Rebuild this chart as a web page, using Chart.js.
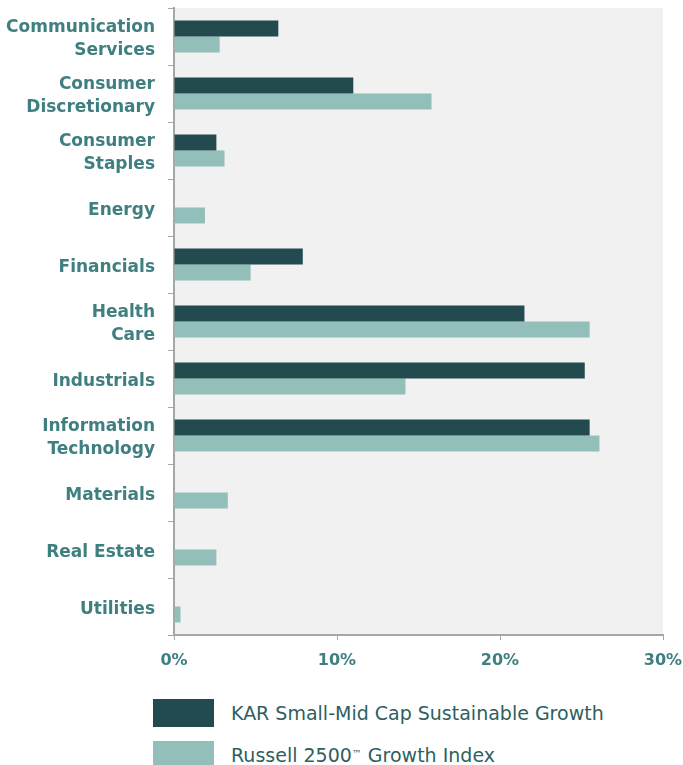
<!DOCTYPE html>
<html>
<head>
<meta charset="utf-8">
<script src="https://cdn.jsdelivr.net/npm/chart.js@4/dist/chart.umd.min.js"></script>
<style>
  body { margin: 0; background: #fff; }
  #wrap { position: relative; width: 683px; height: 765px; overflow: hidden; }
  #grafico { position: absolute; left: 0; top: 0; }
  .leyenda { position: absolute; left: 153px; font-family: "DejaVu Sans", sans-serif; font-size: 19px; color: #2f5f60; }
  .leyenda div { display: flex; align-items: center; height: 28px; margin-bottom: 14px; white-space: nowrap; }
  .leyenda span.caja { display: inline-block; width: 61px; height: 28px; margin-right: 17px; }
</style>
</head>
<body>
<div id="wrap">
  <canvas id="grafico" width="683" height="680"></canvas>
  <div class="leyenda" style="top:699px">
    <div><span class="caja" style="background:#234a4e"></span>KAR Small-Mid Cap Sustainable Growth</div>
    <div><span class="caja" style="background:#93bfba"></span>Russell 2500<sup style="font-size:10px;position:relative;top:-2px">™</sup>&nbsp;Growth Index</div>
  </div>
</div>
<script>
// Sectores y pesos (%)
const sectores = [
  ['Communication', 'Services'],
  ['Consumer', 'Discretionary'],
  ['Consumer', 'Staples'],
  'Energy',
  'Financials',
  ['Health', 'Care'],
  'Industrials',
  ['Information', 'Technology'],
  'Materials',
  'Real Estate',
  'Utilities'
];
const pesoKAR = [6.4, 11.0, 2.6, 0, 7.9, 21.5, 25.2, 25.5, 0, 0, 0];
const pesoRussell = [2.8, 15.8, 3.1, 1.9, 4.7, 25.5, 14.2, 26.1, 3.3, 2.6, 0.4];
const ticksX = [0, 10, 20, 30];

const colorTexto = '#3f7f80';
const colorEje = '#a6a6a6';
const fuente = '"DejaVu Sans", sans-serif';

// fondo gris del area del grafico
const fondoPlugin = {
  id: 'fondo',
  beforeDraw(chart) {
    const { ctx, chartArea } = chart;
    ctx.save();
    ctx.fillStyle = '#f1f1f1';
    ctx.fillRect(chartArea.left, chartArea.top, chartArea.right - chartArea.left, chartArea.bottom - chartArea.top);
    ctx.restore();
  }
};

const ctx = document.getElementById('grafico').getContext('2d');
new Chart(ctx, {
  type: 'bar',
  data: {
    labels: sectores,
    datasets: [
      {
        label: 'KAR Small-Mid Cap Sustainable Growth',
        data: pesoKAR,
        backgroundColor: '#234a4e',
        categoryPercentage: 0.56,
        barPercentage: 1
      },
      {
        label: 'Russell 2500™ Growth Index',
        data: pesoRussell,
        backgroundColor: '#93bfba',
        categoryPercentage: 0.56,
        barPercentage: 1
      }
    ]
  },
  options: {
    indexAxis: 'y',
    responsive: false,
    animation: false,
    layout: { padding: { top: 8, right: 20, left: 0, bottom: 0 } },
    plugins: {
      legend: { display: false },
      tooltip: { enabled: false }
    },
    scales: {
      x: {
        min: 0,
        max: 30,
        afterBuildTicks(axis) {
          axis.ticks = ticksX.map(v => ({ value: v }));
        },
        afterFit(axis) {
          axis.height = 45;
          axis.paddingLeft = 0;
          axis.paddingRight = 0;
        },
        grid: { drawOnChartArea: false, tickLength: 5, color: colorEje, tickColor: colorEje },
        border: { color: colorEje, width: 2 },
        ticks: {
          padding: 11,
          color: colorTexto,
          font: { family: fuente, weight: 'bold', size: 16 },
          callback: v => v + '%'
        }
      },
      y: {
        afterFit(axis) {
          axis.width = 174;
          axis.paddingTop = 0;
          axis.paddingBottom = 0;
        },
        grid: { drawOnChartArea: false, tickLength: 6, color: colorEje, tickColor: colorEje, offset: true },
        border: { color: colorEje, width: 2 },
        ticks: {
          padding: 13,
          labelOffset: 3,
          color: colorTexto,
          font: { family: fuente, weight: 'bold', size: 17, lineHeight: 1.35 }
        }
      }
    }
  },
  plugins: [fondoPlugin]
});
</script>
</body>
</html>
